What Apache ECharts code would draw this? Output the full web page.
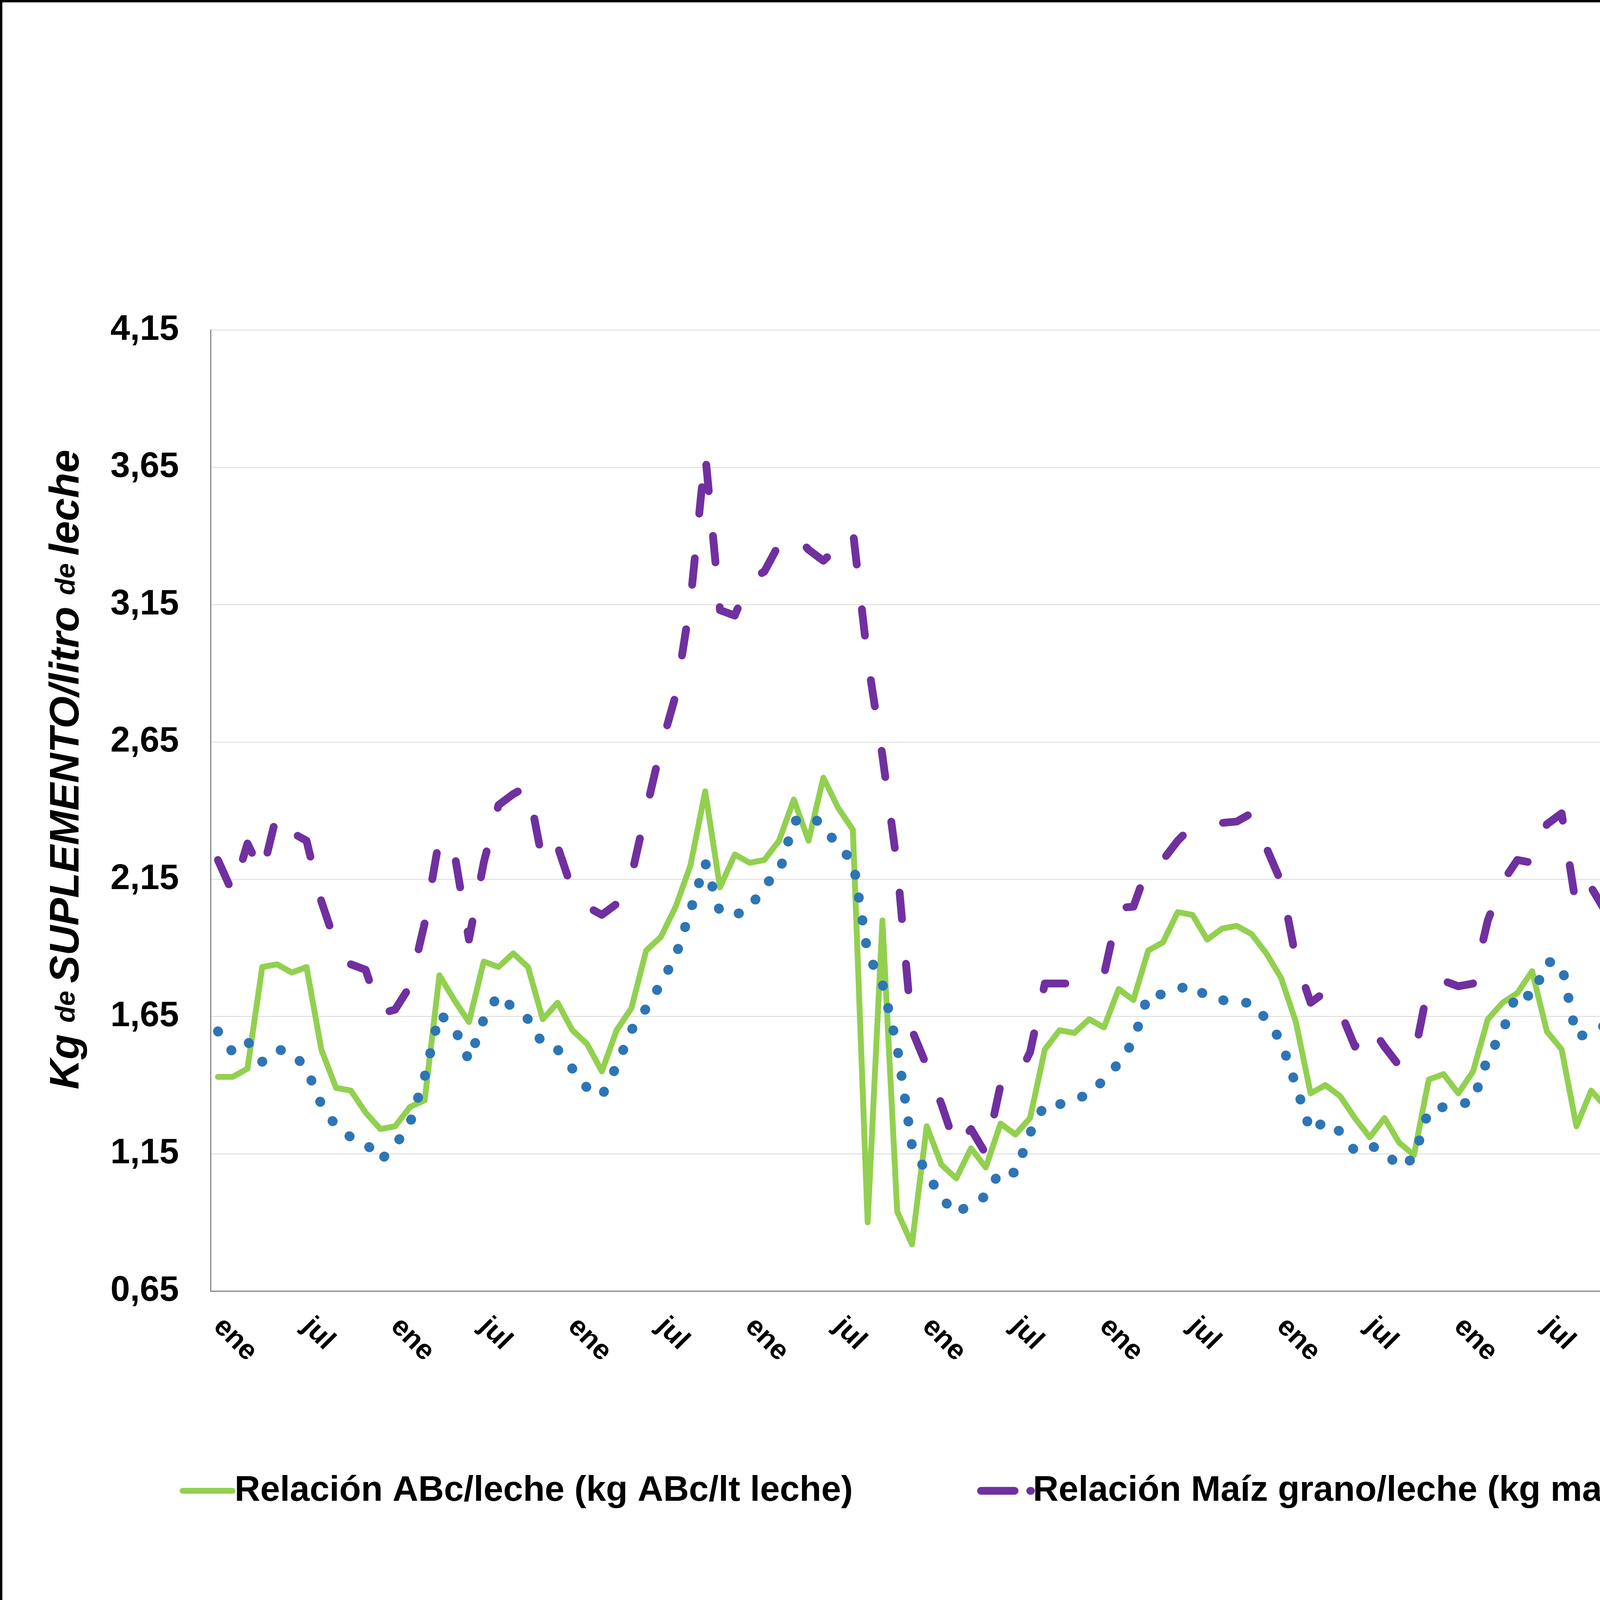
<!DOCTYPE html>
<html>
<head>
<meta charset="utf-8">
<script src="https://cdn.jsdelivr.net/npm/echarts@6/dist/echarts.min.js"></script>
<style>
html,body{margin:0;padding:0;background:#fff;}
#chart{width:7198px;height:4310px;}
</style>
</head>
<body>
<div id="chart"></div>
<script>
// ---- Data (monthly, ene-2012 .. mar-2026) ----
const MONTHS = ['ene','feb','mar','abr','may','jun','jul','ago','sep','oct','nov','dic'];
const START_YEAR = 2012;
const N_POINTS = 171;
const categories = [];
for (let i = 0; i < N_POINTS; i++) {
  const y = START_YEAR + Math.floor(i / 12);
  categories.push(MONTHS[i % 12] + '-' + String(y).slice(2));
}

const serieABc = [
  1.43,1.43,1.46,1.83,1.84,1.81,1.83,1.53,1.39,1.38,
  1.30,1.24,1.25,1.32,1.345,1.80,1.71,1.63,1.85,1.83,
  1.88,1.83,1.64,1.70,1.60,1.55,1.45,1.60,1.68,1.89,
  1.94,2.05,2.20,2.47,2.12,2.24,2.21,2.22,2.29,2.44,
  2.29,2.52,2.41,2.33,0.90,2.00,0.94,0.82,1.25,1.11,
  1.06,1.17,1.10,1.26,1.22,1.28,1.53,1.60,1.59,1.64,
  1.61,1.75,1.71,1.89,1.92,2.03,2.02,1.93,1.97,1.98,
  1.95,1.88,1.79,1.63,1.37,1.40,1.36,1.28,1.21,1.28,
  1.19,1.145,1.42,1.44,1.37,1.45,1.64,1.70,1.735,1.815,
  1.595,1.53,1.25,1.38,1.32,1.30,1.39,1.41,1.40,1.36,
  1.31,1.28,1.42,1.49,1.40,1.39,1.365,1.01,1.01,1.05,
  1.135,1.20,1.23,1.26,1.31,1.365,1.575,1.48,1.46,1.50,
  1.30,1.07,1.135,1.28,1.33,1.345,1.04,1.11,1.17,1.04,
  1.08,0.99,1.16,1.19,1.19,1.21,1.23,1.10,1.23,1.30,
  1.33,1.39,0.83,0.82,1.22,1.40,1.435,1.61,1.80,1.585,
  1.76,1.70,1.73,1.685,1.725,1.76,1.62,1.62,1.64,1.70,
  1.60,1.64,1.62,1.45,1.43,1.365,1.33,1.35,1.28,1.295,
  1.31
];

const serieMaiz = [
  2.22,2.10,2.28,2.17,2.39,2.32,2.29,2.07,1.91,1.84,
  1.82,1.66,1.675,1.76,1.99,2.30,2.25,1.93,2.21,2.42,
  2.46,2.49,2.21,2.27,2.11,2.05,2.02,2.06,2.16,2.40,
  2.63,2.82,3.16,3.70,3.13,3.11,3.24,3.27,3.37,3.41,
  3.35,3.31,3.36,3.42,2.95,2.60,2.20,1.60,1.47,1.33,
  1.17,1.24,1.15,1.40,1.41,1.52,1.77,1.77,1.77,1.79,
  1.80,2.045,2.05,2.20,2.22,2.29,2.345,2.34,2.355,2.36,
  2.39,2.265,2.14,1.86,1.70,1.74,1.67,1.54,1.62,1.54,
  1.47,1.50,1.77,1.78,1.76,1.77,2.00,2.14,2.22,2.21,
  2.35,2.39,2.045,2.12,2.03,1.89,2.08,1.97,2.17,1.97,
  2.23,2.24,2.01,1.91,1.68,1.50,1.33,1.27,1.25,1.24,
  1.43,1.45,1.33,1.43,1.68,1.76,1.80,1.70,1.70,1.72,
  1.47,1.40,1.25,1.51,1.43,1.52,1.70,1.67,1.68,1.53,
  1.47,1.51,1.62,1.53,1.54,1.66,1.95,1.92,2.25,1.93,
  1.72,1.67,1.45,1.43,1.64,1.815,2.02,2.19,2.265,2.39,
  2.52,2.64,2.53,2.34,2.38,2.40,2.30,2.02,2.14,2.13,
  2.14,2.28,2.28,1.98,1.97,1.88,1.78,1.76,1.63,1.815,
  1.99
];

const serieMezcla = [
  1.596,1.52,1.56,1.485,1.53,1.52,1.46,1.33,1.25,1.21,
  1.19,1.125,1.18,1.26,1.43,1.66,1.61,1.49,1.64,1.73,
  1.68,1.64,1.55,1.53,1.46,1.39,1.36,1.47,1.60,1.68,
  1.77,1.87,2.035,2.21,2.03,2.02,2.04,2.13,2.17,2.36,
  2.38,2.35,2.265,2.22,1.88,1.77,1.54,1.18,1.08,0.99,
  0.93,0.97,0.995,1.09,1.08,1.225,1.33,1.33,1.35,1.365,
  1.42,1.48,1.56,1.73,1.73,1.75,1.765,1.72,1.71,1.70,
  1.70,1.64,1.56,1.40,1.23,1.27,1.23,1.16,1.18,1.16,
  1.10,1.135,1.31,1.32,1.33,1.34,1.50,1.595,1.74,1.72,
  1.85,1.84,1.575,1.59,1.62,1.54,1.71,1.685,1.73,1.61,
  1.857,1.71,1.65,1.61,1.53,1.18,1.09,1.03,0.98,1.005,
  1.08,1.14,1.17,1.22,1.26,1.30,1.31,1.30,1.29,1.31,
  1.28,1.22,1.27,1.37,1.38,1.43,1.51,1.43,1.43,1.36,
  1.29,1.22,1.355,1.24,1.18,1.19,1.40,1.46,1.62,1.44,
  1.21,1.24,1.05,1.05,1.20,1.345,1.62,1.75,1.85,1.94,
  2.09,2.21,2.10,2.01,2.11,2.21,2.18,1.90,1.94,1.93,
  1.945,2.06,2.12,1.95,1.90,1.56,1.48,1.47,1.47,1.45,
  1.43
];

const yTicks = [0.65,1.15,1.65,2.15,2.65,3.15,3.65,4.15];
const seriesNames = [
  'Relación ABc/leche (kg ABc/lt leche)',
  'Relación Maíz grano/leche (kg maíz/lt leche)',
  'Relación mezcla/leche (kg mezcla/lt leche)'
];

const FONT = '"Liberation Sans", Arial, Helvetica, sans-serif';
const chart = echarts.init(document.getElementById('chart'), null, {renderer: 'canvas'});

chart.setOption({
  animation: false,
  backgroundColor: '#ffffff',
  grid: {left: 539, right: 195, top: 845, bottom: 1005, containLabel: false},
  xAxis: {
    type: 'category',
    data: categories,
    boundaryGap: true,
    axisLine: {show: true, lineStyle: {color: '#868686', width: 3}},
    axisTick: {show: false},
    splitLine: {show: false},
    axisLabel: {
      interval: 5,
      rotate: -45,
      margin: 80,
      fontFamily: FONT,
      fontWeight: 'bold',
      fontSize: 72,
      color: '#000',
      formatter: v => (v === 'ene-26' ? v : v.slice(0, 3))
    }
  },
  yAxis: {
    type: 'value',
    min: 0.65,
    max: 4.15,
    interval: 0.5,
    axisLine: {show: true, lineStyle: {color: '#868686', width: 3}},
    axisTick: {show: false, customValues: yTicks},
    splitLine: {show: true, lineStyle: {color: '#D9D9D9', width: 2}},
    axisLabel: {
      customValues: yTicks,
      margin: 81,
      fontFamily: FONT,
      fontWeight: 'bold',
      fontSize: 90,
      color: '#000',
      formatter: v => v.toFixed(2).replace('.', ',')
    }
  },
  legend: {
    left: 455,
    top: 3766,
    itemWidth: 128,
    itemHeight: 30,
    itemGap: 318,
    lineStyle: {width: 'inherit'},
    itemStyle: {opacity: 0},
    textStyle: {fontFamily: FONT, fontWeight: 'bold', fontSize: 91, color: '#000'},
    data: [
      {name: seriesNames[0]},
      {name: seriesNames[1], lineStyle: {type: [86, 40]}},
      {name: seriesNames[2], lineStyle: {dashOffset: -14}}
    ]
  },
  series: [
    {
      name: seriesNames[0], type: 'line', data: serieABc,
      symbol: 'none', z: 2,
      lineStyle: {color: '#92D050', width: 15, cap: 'round', join: 'round'},
      itemStyle: {color: '#92D050'}
    },
    {
      name: seriesNames[1], type: 'line', data: serieMaiz,
      symbol: 'none', z: 3,
      lineStyle: {color: '#7030A0', width: 20, type: [68, 115], cap: 'round', join: 'round'},
      itemStyle: {color: '#7030A0'}
    },
    {
      name: seriesNames[2], type: 'line', data: serieMezcla,
      symbol: 'none', z: 4,
      lineStyle: {color: '#2E75B6', width: 25, type: [1, 58], cap: 'round', join: 'round'},
      itemStyle: {color: '#2E75B6'}
    }
  ],
  graphic: [
    {
      type: 'text', x: 172, y: 1970, rotation: Math.PI / 2, z: 10,
      style: {
        text: '{b|Kg }{s|de }{b|SUPLEMENTO/litro }{s|de }{b|leche}',
        align: 'center', verticalAlign: 'middle',
        fill: '#000',
        rich: {
          b: {fontFamily: FONT, fontWeight: 'bold', fontStyle: 'italic', fontSize: 106, fill: '#000'},
          s: {fontFamily: FONT, fontWeight: 'bold', fontStyle: 'italic', fontSize: 70, fill: '#000'}
        }
      }
    },
    {
      type: 'text', x: 3502, y: 4141, z: 10,
      style: {
        text: 'Elaborado por Producir XXI con datos de Márgenes Agropecuarios y otros',
        align: 'center', verticalAlign: 'middle',
        fontFamily: FONT, fontWeight: 'bold', fontStyle: 'italic', fontSize: 90, fill: '#000'
      }
    },
    {
      type: 'text', x: 7014, y: 4090, z: 10,
      style: {
        text: 'www.producirxxi.com.ar',
        align: 'right', verticalAlign: 'middle',
        fontFamily: FONT, fontWeight: 'bold', fontStyle: 'italic', fontSize: 108, fill: '#00642F'
      }
    },
    {
      type: 'rect', z: 20, silent: true,
      shape: {x: 0, y: 0, width: 7198, height: 4310},
      style: {fill: 'none', stroke: '#000', lineWidth: 12}
    }
  ]
});
</script>
</body>
</html>
